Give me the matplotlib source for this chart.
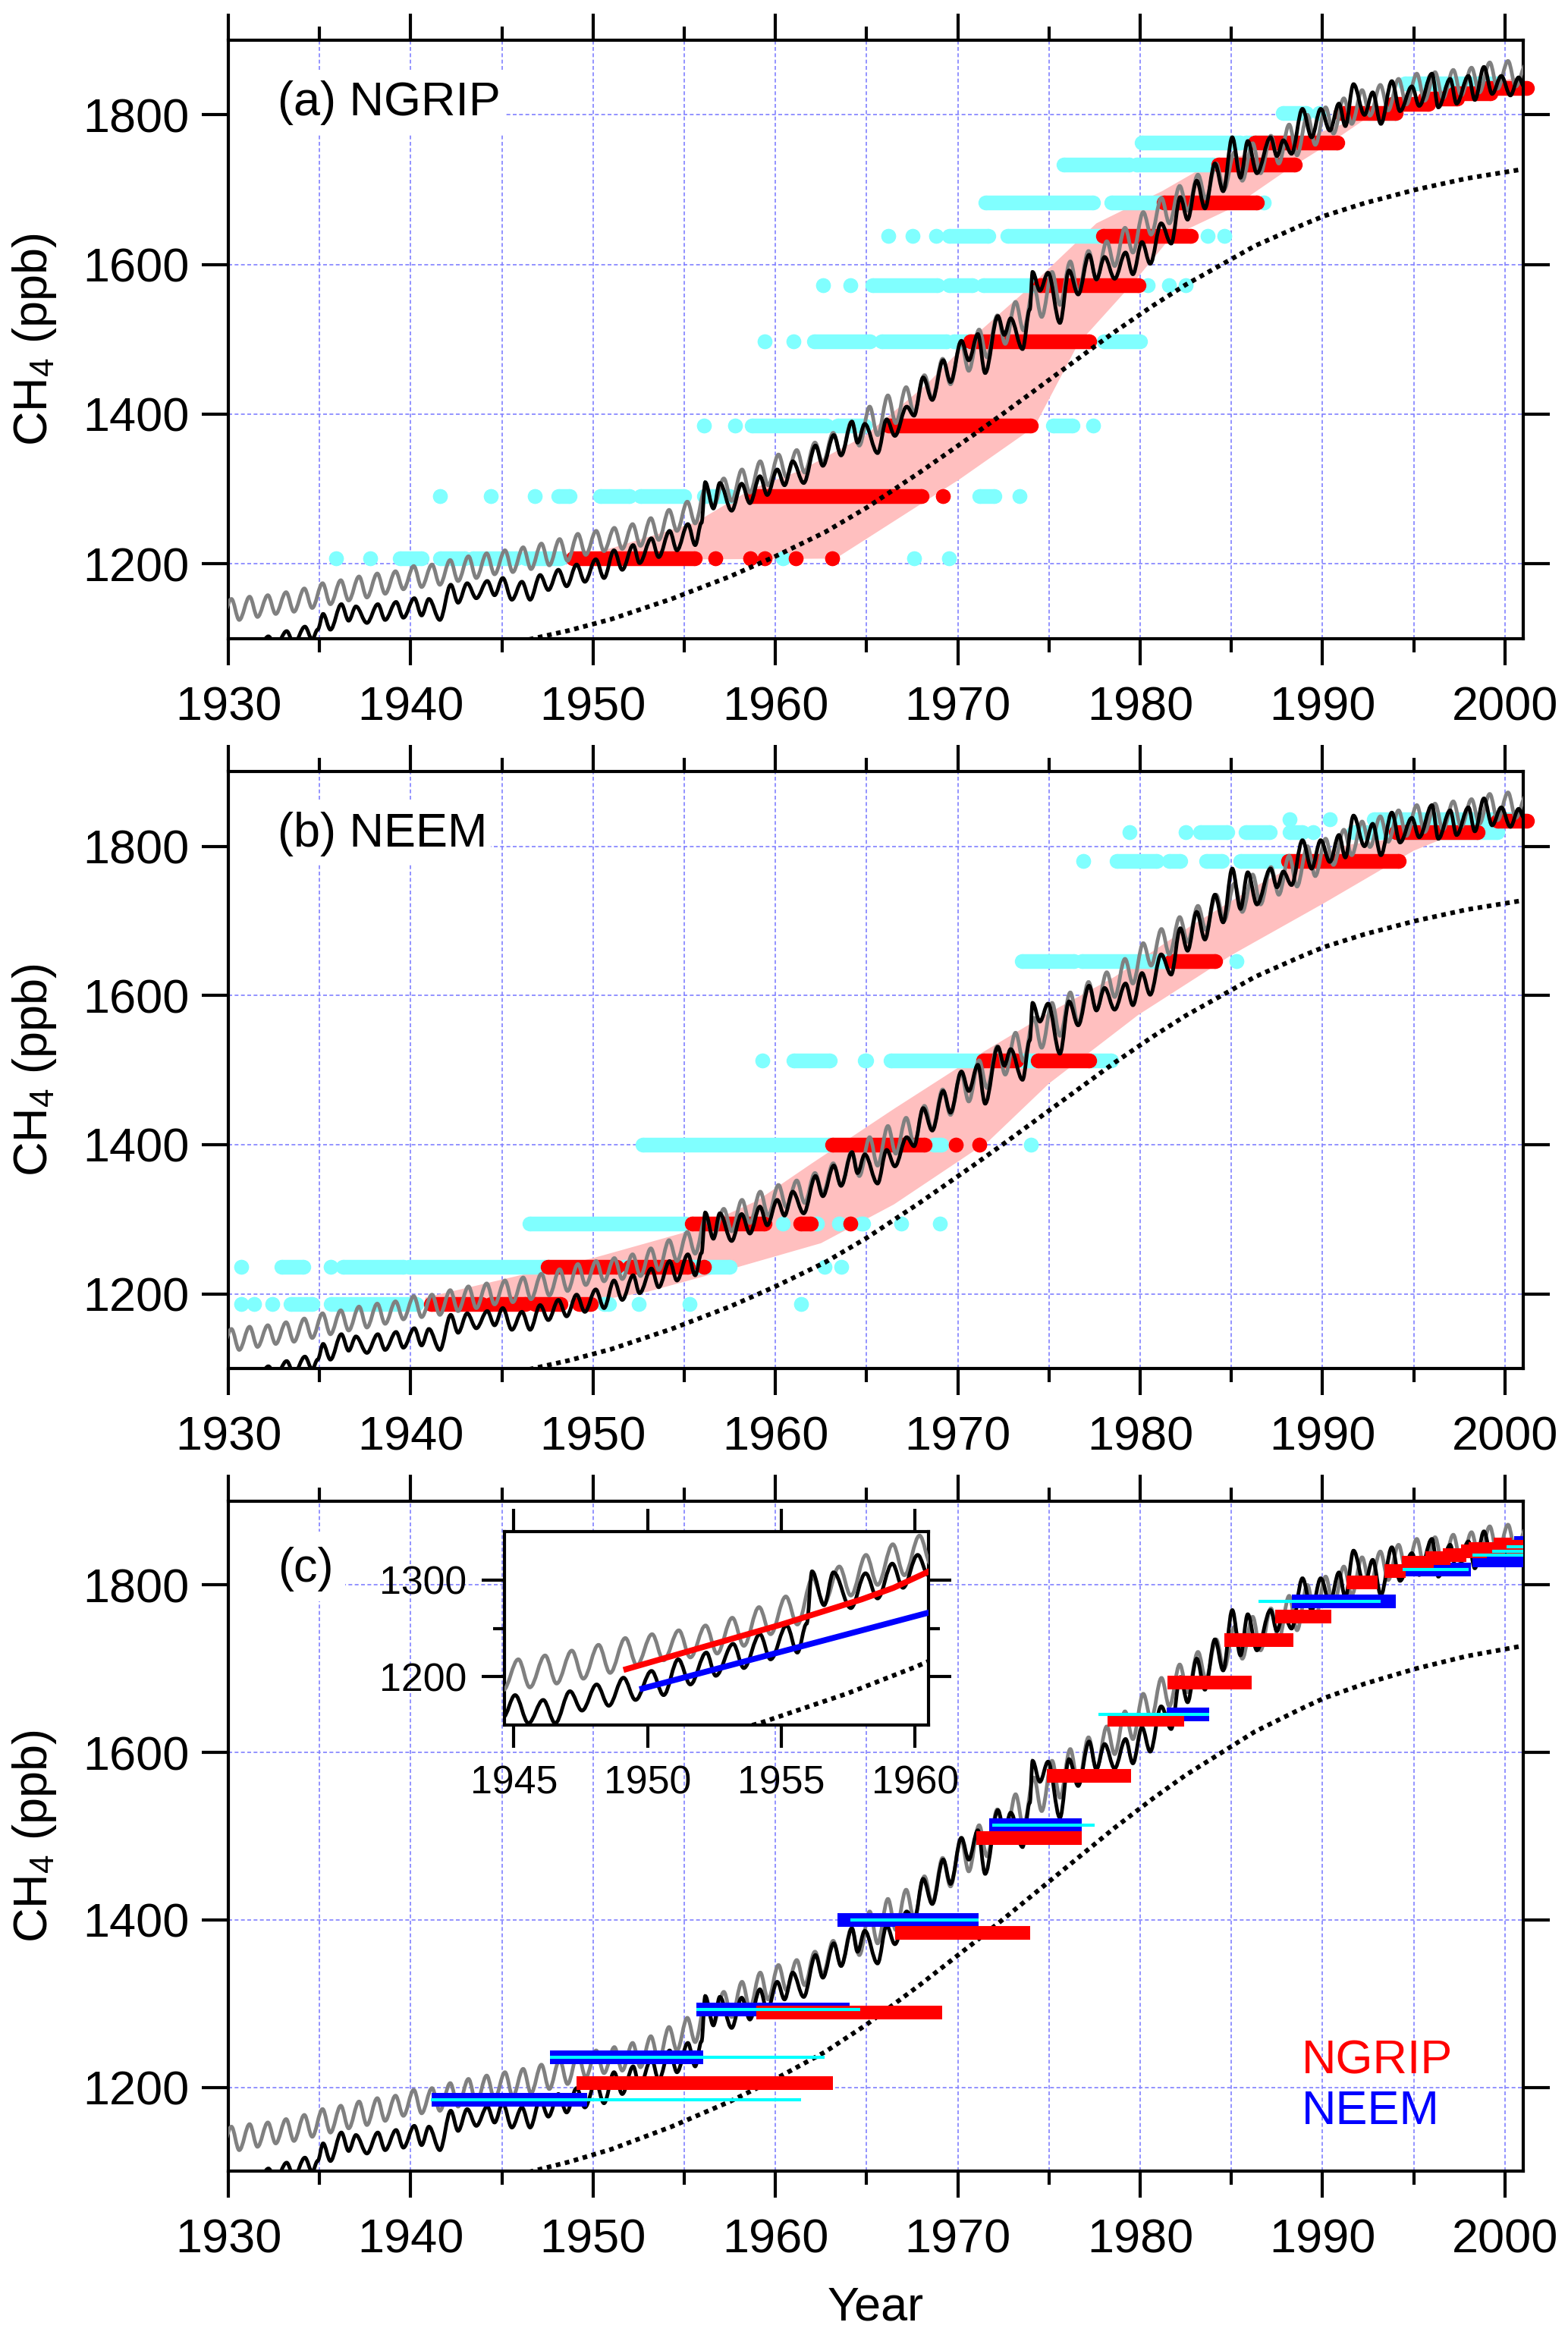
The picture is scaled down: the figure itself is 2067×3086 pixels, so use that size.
import numpy as np
import matplotlib.pyplot as plt
from matplotlib.path import Path
from matplotlib.patches import PathPatch, Rectangle
from matplotlib.ticker import MultipleLocator

plt.rcParams['font.family'] = ['Liberation Sans', 'DejaVu Sans']
plt.rcParams['mathtext.default'] = 'regular'

# ---- atmospheric scenarios ----
# grey curve: seasonal maxima (~Jan-Feb) and minima (~Jul-Aug) per year
gray_years = np.arange(1930, 2002)
gray_peak = [1153, 1156, 1158, 1162, 1167, 1174, 1178, 1183, 1187, 1190,
             1197, 1199, 1205, 1210, 1214, 1218, 1222, 1227, 1233, 1240,
             1244, 1248, 1253, 1261, 1272, 1283, 1302, 1314, 1326, 1337,
             1346, 1352, 1362, 1375, 1390, 1410, 1425, 1436, 1452, 1474,
             1497, 1513, 1532, 1550, 1570, 1590, 1604, 1618, 1631, 1649,
             1670, 1689, 1705, 1720, 1735, 1750, 1762, 1772, 1787, 1800,
             1810, 1822, 1833, 1840, 1848, 1855, 1857, 1860, 1863, 1870,
             1872, 1868]
gray_trough = [1125, 1129, 1133, 1136, 1141, 1146, 1151, 1155, 1160, 1166,
               1169, 1172, 1177, 1181, 1186, 1189, 1193, 1198, 1204, 1212,
               1217, 1220, 1224, 1232, 1244, 1254, 1276, 1284, 1295, 1305,
               1316, 1322, 1335, 1345, 1358, 1372, 1388, 1402, 1420, 1440,
               1458, 1476, 1494, 1512, 1530, 1546, 1562, 1580, 1598, 1616,
               1640, 1655, 1672, 1688, 1700, 1712, 1722, 1735, 1746, 1760,
               1775, 1788, 1799, 1806, 1814, 1819, 1822, 1826, 1830, 1835,
               1838]

# black curve: turning points (year, ppb)
black_t = [1929.9, 1930.3, 1930.7, 1931.2, 1931.6, 1932.2, 1932.6, 1933.2, 1933.6, 1934.2,
           1934.6, 1934.9, 1935.2, 1935.6, 1936.2, 1936.6, 1937.0, 1937.6, 1938.2, 1938.6,
           1939.2, 1939.6, 1940.2, 1940.6, 1941.0, 1941.6, 1942.2, 1942.6, 1943.1, 1943.6,
           1944.2, 1944.6, 1945.05, 1945.55, 1946.1, 1946.55, 1947.1, 1947.55, 1948.1, 1948.55,
           1949.1, 1949.55, 1950.15, 1950.6, 1951.15, 1951.6, 1952.2, 1952.55, 1953.2, 1953.6,
           1954.2, 1954.6, 1955.2, 1955.6, 1955.95, 1956.15, 1956.6, 1956.95, 1957.6, 1958.15,
           1958.6, 1959.15, 1959.55, 1960.1, 1960.5, 1960.95, 1961.55, 1962.2, 1962.6, 1963.2,
           1963.6, 1964.2, 1964.5, 1964.9, 1965.6, 1966.1, 1966.55, 1967.2, 1967.6, 1968.1,
           1968.6, 1969.2, 1969.6, 1970.2, 1970.6, 1971.1, 1971.5, 1972.2, 1972.55, 1972.9,
           1973.55, 1973.95, 1974.1, 1974.5, 1974.95, 1975.6, 1976.1, 1976.6, 1977.2, 1977.6,
           1978.05, 1978.6, 1979.2, 1979.6, 1980.1, 1980.55, 1981.15, 1981.7, 1982.2, 1982.6,
           1983.1, 1983.55, 1984.1, 1984.55, 1985.05, 1985.5, 1985.9, 1986.4, 1987.15, 1987.5,
           1987.85, 1988.3, 1988.9, 1989.4, 1989.9, 1990.4, 1990.9, 1991.25, 1991.7, 1992.3,
           1992.75, 1993.2, 1993.8, 1994.25, 1994.9, 1995.3, 1996.0, 1996.35, 1997.0, 1997.35,
           1998.0, 1998.35, 1998.85, 1999.3, 1999.8, 2000.3, 2000.75, 2001.05]
black_v = [1085, 1088, 1082, 1094, 1085, 1103, 1090, 1110, 1093, 1116,
           1099, 1112, 1133, 1112, 1146, 1124, 1143, 1121, 1146, 1125,
           1149, 1128, 1154, 1131, 1153, 1125, 1172, 1148, 1174, 1154,
           1177, 1158, 1181, 1152, 1176, 1152, 1185, 1165, 1192, 1170,
           1199, 1176, 1206, 1181, 1218, 1192, 1225, 1201, 1234, 1209,
           1244, 1218, 1253, 1225, 1255, 1309, 1274, 1308, 1271, 1307,
           1281, 1317, 1292, 1326, 1305, 1337, 1308, 1358, 1331, 1372,
           1345, 1390, 1362, 1387, 1348, 1393, 1371, 1410, 1398, 1449,
           1419, 1472, 1443, 1498, 1472, 1507, 1455, 1531, 1506, 1528,
           1487, 1540, 1590, 1565, 1589, 1522, 1592, 1560, 1613, 1580,
           1610, 1581, 1616, 1587, 1630, 1601, 1655, 1628, 1690, 1660,
           1712, 1675, 1735, 1698, 1770, 1716, 1765, 1722, 1770, 1745,
           1766, 1748, 1808, 1770, 1808, 1779, 1815, 1785, 1841, 1800,
           1830, 1788, 1845, 1805, 1838, 1812, 1855, 1810, 1848, 1815,
           1852, 1820, 1864, 1828, 1852, 1826, 1850, 1838]

# dotted curve
dot_t = [1945.5, 1946.7, 1948.7, 1951.0, 1954.3, 1957.5, 1960.0, 1962.7, 1965.0, 1967.9,
         1970.9, 1972.5, 1975.8, 1978.6, 1980.7, 1982.5, 1986.3, 1988.9, 1990.1, 1992.3,
         1995.1, 1997.9, 2000.9]
dot_v = [1093, 1100, 1111, 1126, 1153, 1183, 1210, 1242, 1275, 1322,
         1373, 1401, 1460, 1510, 1545, 1573, 1625, 1653, 1665, 1682,
         1700, 1715, 1727]

# ---- panel (a) NGRIP: firn-air levels, runs of dots (start, end) ----
ngrip_cyan = [
    (1207, [(1935.9, 1935.9), (1937.8, 1937.8), (1939.4, 1940.6), (1941.6, 1943.0), (1943.4, 1945.8),
            (1946.3, 1948.2), (1960.4, 1960.4), (1967.6, 1967.6), (1969.5, 1969.5)]),
    (1290, [(1941.6, 1941.6), (1944.4, 1944.4), (1946.8, 1946.8), (1948.1, 1948.7), (1950.4, 1952.0),
            (1952.6, 1955.0), (1956.1, 1957.5), (1971.2, 1972.0), (1973.4, 1973.4)]),
    (1385, [(1956.1, 1956.1), (1957.8, 1957.8), (1958.7, 1962.8), (1963.4, 1964.9), (1975.2, 1976.3),
            (1977.4, 1977.4)]),
    (1497, [(1959.4, 1959.4), (1961.0, 1961.0), (1962.1, 1965.2), (1965.8, 1969.4), (1969.75, 1970.7),
            (1978.0, 1980.0)]),
    (1572, [(1962.6, 1962.6), (1964.1, 1964.1), (1965.3, 1968.9), (1969.5, 1970.8), (1971.4, 1974.3),
            (1980.4, 1980.4), (1981.6, 1981.6), (1982.5, 1982.5)]),
    (1638, [(1966.2, 1966.2), (1967.5, 1967.5), (1968.8, 1968.8), (1969.5, 1971.7), (1972.7, 1977.8),
            (1983.7, 1983.7), (1984.6, 1984.6)]),
    (1683, [(1971.5, 1977.4), (1978.4, 1981.2), (1986.8, 1986.8)]),
    (1734, [(1975.8, 1979.4), (1979.8, 1984.0)]),
    (1763, [(1980.1, 1985.5), (1985.8, 1988.6)]),
    (1802, [(1987.8, 1989.1), (1989.8, 1989.8), (1992.5, 1994.0)]),
    (1842, [(1994.5, 1999.5)]),
]
ngrip_red = [
    (1207, [(1948.9, 1955.6), (1956.7, 1956.7), (1958.6, 1958.6), (1959.4, 1959.4), (1961.1, 1961.1),
            (1963.1, 1963.1)]),
    (1290, [(1958.7, 1968.0), (1969.2, 1969.2)]),
    (1385, [(1966.2, 1974.0)]),
    (1497, [(1970.7, 1977.2)]),
    (1572, [(1974.5, 1979.9)]),
    (1638, [(1977.95, 1982.8)]),
    (1683, [(1981.3, 1986.4)]),
    (1734, [(1984.3, 1988.5)]),
    (1763, [(1986.3, 1990.8)]),
    (1802, [(1991.0, 1994.0)]),
    (1815, [(1993.8, 1995.8)]),
    (1822, [(1995.6, 1997.4)]),
    (1829, [(1997.2, 1999.2)]),
    (1836, [(1999.0, 2001.2)]),
]
ngrip_band_up_t = [1948.9, 1951.3, 1955.6, 1958.7, 1961.4, 1964.9, 1968.3, 1970.7, 1973.5, 1977.6,
                   1981.2, 1983.7, 1988.9, 1992.5, 1996.0, 2000.8]
ngrip_band_up_v = [1207, 1223, 1255, 1300, 1325, 1371, 1440, 1500, 1560, 1655,
                   1698, 1733, 1768, 1800, 1830, 1850]
ngrip_band_lo_t = [1948.9, 1963.3, 1970.1, 1974.2, 1976.6, 1979.6, 1981.7, 1985.0, 1988.1, 1990.4,
                   1992.5, 1996.0, 2000.8]
ngrip_band_lo_v = [1205, 1207, 1313, 1383, 1494, 1575, 1637, 1675, 1727, 1762,
                   1797, 1818, 1833]

# ---- panel (b) NEEM ----
neem_cyan = [
    (1186.5, [(1930.7, 1930.7), (1931.4, 1931.4), (1932.4, 1932.4), (1933.4, 1934.6), (1935.6, 1940.3),
              (1950.6, 1950.9), (1952.5, 1952.5), (1955.3, 1955.3), (1961.4, 1961.4)]),
    (1236.5, [(1930.7, 1930.7), (1932.9, 1934.1), (1935.6, 1935.6), (1936.3, 1939.6), (1939.9, 1947.4),
              (1951.7, 1951.7), (1955.4, 1957.5), (1962.7, 1962.7), (1963.6, 1963.6)]),
    (1294, [(1946.5, 1955.1), (1960.4, 1960.4), (1962.3, 1962.3), (1963.5, 1963.5), (1964.7, 1964.8),
            (1966.9, 1966.9), (1969.0, 1969.0)]),
    (1400, [(1952.7, 1963.0), (1968.7, 1969.1), (1974.0, 1974.0)]),
    (1513, [(1959.3, 1959.3), (1961.0, 1963.0), (1964.9, 1965.0), (1966.3, 1971.4), (1973.5, 1974.2),
            (1977.3, 1978.4)]),
    (1646, [(1973.5, 1976.4), (1976.8, 1981.7), (1985.3, 1985.3)]),
    (1780, [(1976.9, 1976.9), (1978.7, 1980.9), (1981.6, 1982.2), (1983.6, 1984.5), (1985.5, 1988.6)]),
    (1819, [(1979.4, 1979.4), (1982.5, 1982.5), (1983.3, 1984.8), (1985.8, 1987.1), (1988.2, 1988.9),
            (1989.5, 1989.5), (1991.7, 1999.6)]),
    (1836, [(1988.2, 1988.2), (1990.4, 1990.4), (1992.8, 2000.9)]),
]
neem_red = [
    (1186.5, [(1941.1, 1943.9), (1944.4, 1946.3), (1946.8, 1948.2), (1949.2, 1949.9)]),
    (1236.5, [(1947.5, 1951.3), (1952.0, 1955.2), (1956.1, 1956.1)]),
    (1294, [(1955.4, 1959.4), (1961.35, 1961.95), (1964.1, 1964.1)]),
    (1400, [(1963.1, 1968.2), (1969.9, 1969.9), (1971.2, 1971.2)]),
    (1513, [(1971.4, 1973.2), (1974.4, 1977.2)]),
    (1646, [(1981.7, 1984.1)]),
    (1780, [(1988.1, 1994.2)]),
    (1819, [(1994.0, 1998.5)]),
    (1834, [(1999.6, 2001.2)]),
]
neem_band_up_t = [1940.8, 1950.0, 1955.4, 1959.0, 1962.0, 1966.5, 1970.9, 1974.8, 1978.6, 1982.7,
                  1986.3, 1988.9, 1991.4, 1996.6, 2001.0]
neem_band_up_v = [1195, 1248, 1285, 1325, 1375, 1448, 1517, 1574, 1625, 1692,
                  1746, 1780, 1802, 1818, 1838]
neem_band_lo_t = [1940.8, 1950.0, 1953.0, 1957.8, 1962.5, 1966.5, 1971.7, 1975.0, 1979.9, 1985.0,
                  1990.1, 1995.0, 1996.6, 2001.0]
neem_band_lo_v = [1182, 1190, 1203, 1235, 1268, 1320, 1405, 1482, 1574, 1654,
                  1724, 1794, 1810, 1830]

# ---- panel (c): age ranges ----
ngrip_start = [1949.1, 1958.95, 1966.55, 1971.0, 1974.9, 1978.2, 1981.5, 1984.6, 1987.4, 1991.3,
               1993.4, 1994.35, 1995.65, 1996.6, 1997.6, 1998.0, 1999.4, 2000.1]
ngrip_end = [1963.15, 1969.13, 1973.97, 1976.8, 1979.5, 1982.4, 1986.1, 1988.4, 1990.5, 1993.0,
             1994.55, 1996.1, 1997.0, 1997.9, 1999.0, 2000.0, 2000.4, 2001.0]
ngrip_ch4 = [1205, 1289, 1384.5, 1497.5, 1572, 1639, 1683.5, 1734, 1762, 1803.5,
             1817, 1826.5, 1832, 1836, 1840, 1843, 1848, 1846]
neem_start = [1941.15, 1947.65, 1955.65, 1963.4, 1971.72, 1981.45, 1988.3, 1994.55, 1998.2, 2000.5]
neem_end = [1949.68, 1956.05, 1964.05, 1971.16, 1976.8, 1983.8, 1994.0, 1998.15, 2001.0, 2001.0]
neem_ch4 = [1185, 1235.7, 1293.3, 1400, 1513.5, 1645.5, 1780.5, 1818.5, 1829, 1850]
neemw_start = [1941.1, 1947.65, 1955.65, 1964.1, 1971.9, 1977.7, 1986.5, 1994.4, 1998.2, 1999.3, 2000.1]
neemw_end = [1961.4, 1962.7, 1964.65, 1971.16, 1977.5, 1983.8, 1993.2, 1998.0, 2001.0, 2001.0, 2001.0]
neemw_ch4 = [1185, 1235.7, 1293.3, 1400, 1513.5, 1645.5, 1780.5, 1818.7, 1835.5, 1840, 1846]

# inset lines
inset_red_t = [1949.1, 1955.0, 1958.0, 1959.2, 1960.6]
inset_red_v = [1207, 1254, 1280, 1292, 1310]
inset_blue_t = [1949.7, 1960.6]
inset_blue_v = [1187, 1267]

GRID = '#8080ff'
FS = 22.7
LW = 1.75


def wave_path(t, v):
    # smooth curve through turning points (flat tangent at each point)
    verts = [(t[0], v[0])]
    codes = [Path.MOVETO]
    for i in range(1, len(t)):
        d = t[i] - t[i - 1]
        verts += [(t[i - 1] + 0.36 * d, v[i - 1]), (t[i] - 0.36 * d, v[i]), (t[i], v[i])]
        codes += [Path.CURVE4] * 3
    return Path(verts, codes)


gray_t = [1929.6]
gray_v = [1122]
for i, y in enumerate(gray_years):
    gray_t.append(y + 0.17)
    gray_v.append(gray_peak[i])
    if i < len(gray_trough):
        gray_t.append(y + 0.6)
        gray_v.append(gray_trough[i])


def draw_curves(ax, lw=LW):
    ax.add_patch(PathPatch(wave_path(gray_t, gray_v), fill=False, ec='#808080', lw=lw, zorder=3))
    ax.add_patch(PathPatch(wave_path(black_t, black_v), fill=False, ec='black', lw=lw, zorder=3.1))
    ax.plot(dot_t, dot_v, color='black', lw=2.2, ls=(0, (1, 1)), zorder=3.2)


def draw_runs(ax, rows, color, z):
    for level, runs in rows:
        for s, e in runs:
            ax.plot([s, e], [level, level], color=color, lw=7.0, marker='o', ms=7.0, mew=0,
                    solid_capstyle='butt', clip_on=False, zorder=z)


def setup(ax):
    ax.set_xlim(1930, 2001)
    ax.set_ylim(1100, 1900)
    ax.xaxis.set_major_locator(MultipleLocator(10))
    ax.xaxis.set_minor_locator(MultipleLocator(5))
    ax.set_yticks([1200, 1400, 1600, 1800])
    ax.tick_params(which='both', direction='out', top=True, right=True, width=1.5, labelsize=FS)
    ax.tick_params(which='major', length=12.6)
    ax.tick_params(which='minor', length=6.5)
    ax.tick_params(axis='x', pad=9.5)
    ax.tick_params(axis='y', pad=6)
    for s in ax.spines.values():
        s.set_linewidth(1.5)
    ax.grid(True, axis='x', which='both', color=GRID, lw=0.6, ls=(0, (3, 2)))
    ax.grid(True, axis='y', which='major', color=GRID, lw=0.6, ls=(0, (3, 2)))
    ax.set_axisbelow(True)
    ax.set_ylabel('CH$_4$ (ppb)', fontsize=FS)
    ax.yaxis.set_label_coords(-0.131, 0.5)


def label(ax, txt, y, box_w):
    # white box hiding the grid behind the panel label
    ax.add_patch(Rectangle((0, y - 0.03), box_w, 0.105, transform=ax.transAxes,
                           fc='white', ec='none', zorder=1))
    ax.text(0.038, y, txt, transform=ax.transAxes, fontsize=FS, va='baseline', zorder=2)


fig = plt.figure(figsize=(10.335, 15.43), dpi=200)
ax_a = fig.add_axes([0.1456, 0.7272, 0.8258, 0.2557])
ax_b = fig.add_axes([0.1456, 0.4154, 0.8258, 0.2550])
ax_c = fig.add_axes([0.1456, 0.0726, 0.8258, 0.2861])

# (a)
setup(ax_a)
ax_a.fill(ngrip_band_up_t + ngrip_band_lo_t[::-1], ngrip_band_up_v + ngrip_band_lo_v[::-1],
          color='#ffbfbf', lw=0, zorder=1.5)
draw_runs(ax_a, ngrip_cyan, '#80ffff', 2)
draw_runs(ax_a, ngrip_red, '#ff0000', 2.1)
draw_curves(ax_a)
label(ax_a, '(a) NGRIP', 0.874, 0.214)

# (b)
setup(ax_b)
ax_b.fill(neem_band_up_t + neem_band_lo_t[::-1], neem_band_up_v + neem_band_lo_v[::-1],
          color='#ffbfbf', lw=0, zorder=1.5)
draw_runs(ax_b, neem_cyan, '#80ffff', 2)
draw_runs(ax_b, neem_red, '#ff0000', 2.1)
draw_curves(ax_b)
label(ax_b, '(b) NEEM', 0.875, 0.203)

# (c)
setup(ax_c)
draw_curves(ax_c)
for s, e, y in zip(neem_start, neem_end, neem_ch4):
    ax_c.plot([s, e], [y, y], color='#0000ff', lw=6.5, solid_capstyle='butt', zorder=4)
for s, e, y in zip(ngrip_start, ngrip_end, ngrip_ch4):
    ax_c.plot([s, e], [y, y], color='#ff0000', lw=6.5, solid_capstyle='butt', zorder=5)
for s, e, y in zip(neemw_start, neemw_end, neemw_ch4):
    ax_c.plot([s, e], [y, y], color='#00ffff', lw=1.5, solid_capstyle='butt', zorder=6)
label(ax_c, '(c)', 0.880, 0.09)
ax_c.text(0.829, 0.146, 'NGRIP', color='#ff0000', fontsize=FS, transform=ax_c.transAxes, va='baseline')
ax_c.text(0.829, 0.070, 'NEEM', color='#0000ff', fontsize=FS, transform=ax_c.transAxes, va='baseline')
ax_c.set_xlabel('Year', fontsize=FS)
ax_c.xaxis.set_label_coords(0.5, -0.17)

# inset
ax_in = fig.add_axes([0.3217, 0.2631, 0.2704, 0.0826])
ax_in.set_facecolor('white')
ax_in.set_xlim(1944.65, 1960.5)
ax_in.set_ylim(1150, 1350)
ax_in.set_xticks([1945, 1950, 1955, 1960])
ax_in.set_yticks([1200, 1300])
ax_in.set_yticks([1250], minor=True)
ax_in.tick_params(which='both', direction='out', top=True, right=True, width=1.5, labelsize=18.7)
ax_in.tick_params(which='major', length=10.8)
ax_in.tick_params(which='minor', length=5.4)
ax_in.tick_params(axis='x', pad=8)
ax_in.tick_params(axis='y', pad=7)
for s in ax_in.spines.values():
    s.set_linewidth(1.5)
draw_curves(ax_in)
ax_in.plot(inset_red_t, inset_red_v, color='#ff0000', lw=2.8, solid_capstyle='butt', zorder=5)
ax_in.plot(inset_blue_t, inset_blue_v, color='#0000ff', lw=2.8, solid_capstyle='butt', zorder=5)

fig.savefig('out.png', dpi=200)
